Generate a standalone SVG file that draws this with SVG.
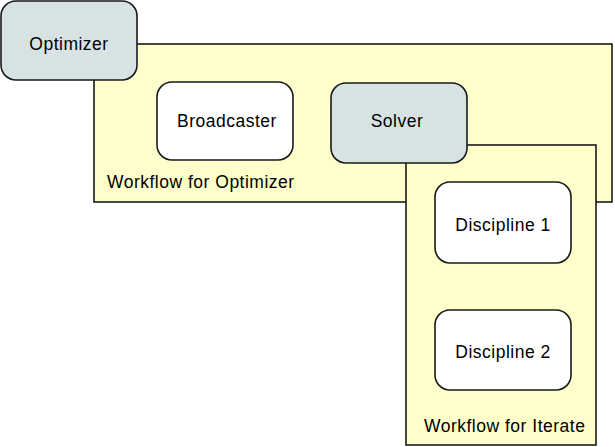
<svg xmlns="http://www.w3.org/2000/svg" width="615" height="447" viewBox="0 0 615 447">
<style>
.wf{fill:#ffffcc;stroke:#1a1a1a;stroke-width:1.6}
.node{stroke:#1a1a1a;stroke-width:1.6}
.comp{fill:#d7e3e3}
.plain{fill:#ffffff}
text{font-family:"Liberation Sans",Arial,sans-serif;font-size:17.5px;letter-spacing:0.5px;fill:#000}
.c{text-anchor:middle}
</style>
<rect width="615" height="447" fill="#ffffff"/>
<g id="workflow-optimizer">
<rect class="wf" x="94" y="44" width="518" height="158"/>
<text x="107" y="188">Workflow for Optimizer</text>
</g>
<g id="optimizer">
<rect class="node comp" x="1" y="1" width="136" height="79" rx="15"/>
<text class="c" x="69" y="50">Optimizer</text>
</g>
<g id="broadcaster">
<rect class="node plain" x="157" y="82" width="136" height="78" rx="15"/>
<text class="c" x="227" y="127">Broadcaster</text>
</g>
<g id="workflow-iterate">
<rect class="wf" x="406" y="145" width="190" height="300"/>
<text x="424" y="432">Workflow for Iterate</text>
</g>
<g id="solver">
<rect class="node comp" x="331" y="83" width="136" height="80" rx="15"/>
<text class="c" x="397" y="127">Solver</text>
</g>
<g id="discipline1">
<rect class="node plain" x="435" y="182" width="136" height="81" rx="15"/>
<text class="c" x="503" y="231">Discipline 1</text>
</g>
<g id="discipline2">
<rect class="node plain" x="435" y="310" width="136" height="80" rx="15"/>
<text class="c" x="503" y="358">Discipline 2</text>
</g>
<g id="connectors"></g>
</svg>
